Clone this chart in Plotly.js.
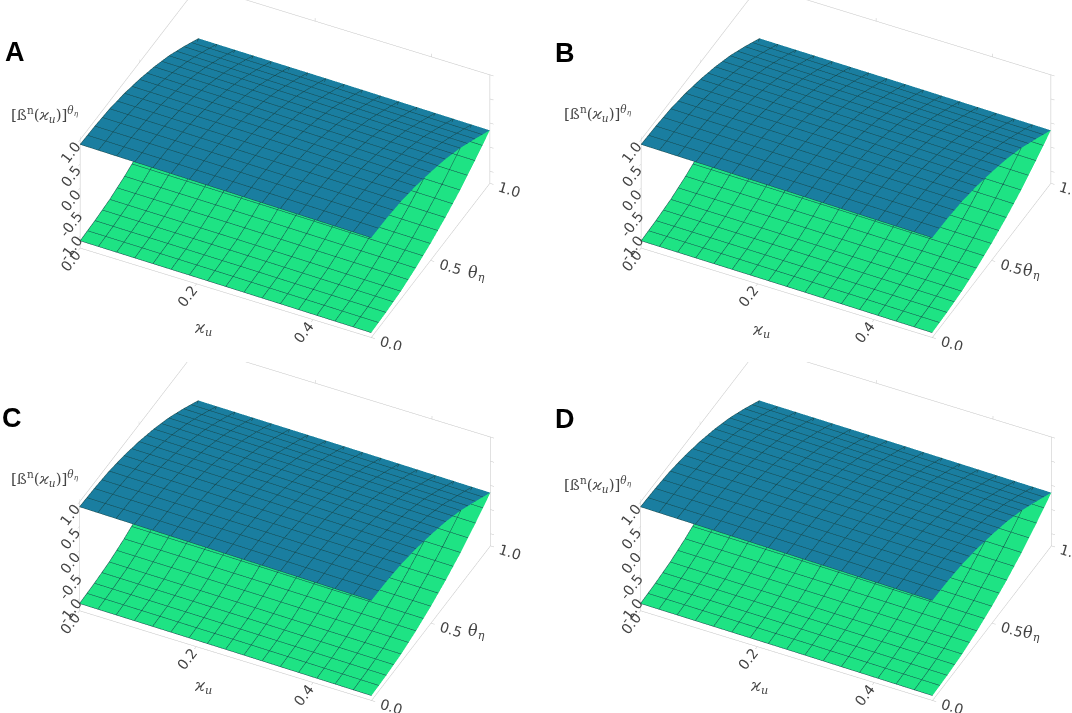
<!DOCTYPE html>
<html>
<head>
<meta charset="utf-8">
<script src="https://cdn.plot.ly/plotly-3.0.1.min.js"></script>
<style>
  html, body { margin: 0; padding: 0; background: #fff; }
  #chart { width: 1072px; height: 713px; }
  #log { position: absolute; left: 10px; top: 330px; font: 13px monospace; color: red; }
</style>
</head>
<body>
<div id="chart"></div>
<div id="log"></div>
<script>
var logEl = document.getElementById('log');
window.onerror = function (m) { logEl.innerHTML += 'ERR ' + m + '<br>'; };

// grid
var nu = [0, 0.25, 0.5];
var theta = [0, 0.125, 0.25, 0.375, 0.5, 0.625, 0.75, 0.875, 1];

// upper bound (blue), rows = theta, cols = nu
var upper = [
  [0.90, 0.86, 0.82],
  [0.88, 0.85, 0.81],
  [0.84, 0.80, 0.77],
  [0.76, 0.73, 0.69],
  [0.65, 0.62, 0.58],
  [0.51, 0.48, 0.45],
  [0.34, 0.31, 0.28],
  [0.13, 0.10, 0.07],
  [-0.10, -0.12, -0.15]
];

// lower bound (green)
var lower = [
  [-1.10, -1.12, -1.15],
  [-1.08, -1.10, -1.13],
  [-1.04, -1.06, -1.09],
  [-0.96, -0.98, -1.01],
  [-0.85, -0.87, -0.90],
  [-0.71, -0.73, -0.76],
  [-0.54, -0.56, -0.59],
  [-0.33, -0.35, -0.38],
  [-0.10, -0.12, -0.15]
];

var panels = ['A', 'B', 'C', 'D'];
var nuTicks = [0, 0.2, 0.4];
var thetaTicks = [0, 0.5, 1];
var zTicks = [-1, -0.5, 0, 0.5, 1];

var meshColor = '#16464a';
var flat = {ambient: 0.95, diffuse: 0.12, specular: 0, roughness: 1, fresnel: 0};

function surf(z, color, scene) {
  return {
    type: 'surface',
    x: nu, y: theta, z: z,
    scene: scene,
    colorscale: [[0, color], [1, color]],
    showscale: false,
    lighting: flat,
    hoverinfo: 'skip',
    contours: {
      x: {show: true, start: 0, end: 0.5, size: 0.5 / 16, color: meshColor, width: 1, highlight: false},
      y: {show: true, start: 0, end: 1, size: 1 / 16, color: meshColor, width: 1, highlight: false},
      z: {highlight: false}
    }
  };
}

var tickFont = {family: 'DejaVu Sans', size: 13, color: '#444'};

function axis(range, vals) {
  return {
    range: range, autorange: false,
    tickvals: vals, ticktext: vals.map(function (v) { return v.toFixed(1); }),
    showgrid: false, zeroline: false, showbackground: false,
    showline: true, mirror: 'all', linecolor: '#c4c4c4', linewidth: 1,
    ticks: 'outside', ticklen: 4, tickcolor: '#c4c4c4',
    tickfont: tickFont, showspikes: false,
    title: {text: ''}
  };
}

var data = [];
var layout = {
  width: 1072, height: 713,
  margin: {l: 0, r: 0, t: 0, b: 0},
  paper_bgcolor: '#fff',
  showlegend: false,
  annotations: []
};

// scene boxes in pixels [x0, x1, y0, y1] (y from top)
var boxes = [[24, 546, 0, 350], [620, 1072, 0, 350], [24, 546, 362, 713], [620, 1072, 362, 713]];
var letterPos = [[15, 52], [565, 53], [12, 418], [565, 419]];
var zTitlePos = [[45, 115], [598, 113], [45, 479], [598, 484]];
var nuLabelPos = [[203, 328], [761, 330], [203, 686], [759, 686]];
var thLabelPos = [[476, 273], [1031, 271], [476, 631], [1031, 633]];

function px(x, y, text, size, fam) {
  return {
    xref: 'paper', yref: 'paper', x: x / 1072, y: 1 - y / 713,
    xanchor: 'center', yanchor: 'middle',
    text: text, showarrow: false,
    font: {family: fam, size: size, color: '#444'}
  };
}

panels.forEach(function (p, i) {
  var sid = i === 0 ? 'scene' : 'scene' + (i + 1);
  var b = boxes[i];
  data.push(surf(lower, '#1ee384', sid));
  data.push(surf(upper, '#1a7ea0', sid));
  layout[sid] = {
    domain: {x: [b[0] / 1072, b[1] / 1072], y: [1 - b[3] / 713, 1 - b[2] / 713]},
    aspectmode: 'manual',
    aspectratio: {x: 1.85, y: 1.55, z: 0.80},
    camera: {
      eye: {x: 0.70, y: -1.44, z: 1.206},
      up: {x: 0, y: 0, z: 1},
      center: {x: 0, y: 0, z: -0.10},
      projection: {type: 'orthographic'}
    },
    xaxis: axis([0, 0.5], nuTicks),
    yaxis: axis([0, 1], thetaTicks),
    zaxis: axis([-1.25, 1.0], zTicks)
  };
  layout.annotations.push({
    xref: 'paper', yref: 'paper',
    x: letterPos[i][0] / 1072, y: 1 - letterPos[i][1] / 713,
    xanchor: 'center', yanchor: 'middle',
    text: '<b>' + p + '</b>', showarrow: false,
    font: {family: 'Liberation Sans', size: 27, color: '#000'}
  });
  layout.annotations.push(px(zTitlePos[i][0], zTitlePos[i][1],
    '[ß<sup>n</sup>(<i>ϰ<sub>u</sub></i>)]<sup><i>θ<sub>η</sub></i></sup>', 15, 'DejaVu Serif'));
  layout.annotations.push(px(nuLabelPos[i][0], nuLabelPos[i][1], '<i>ϰ<sub>u</sub></i>', 16, 'DejaVu Serif'));
  layout.annotations.push(px(thLabelPos[i][0], thLabelPos[i][1], '<i>θ<sub>η</sub></i>', 16, 'DejaVu Serif'));
});

Plotly.newPlot('chart', data, layout, {displayModeBar: false})
  .catch(function (e) { logEl.innerHTML += 'catch ' + e + '<br>'; });
</script>
</body>
</html>
